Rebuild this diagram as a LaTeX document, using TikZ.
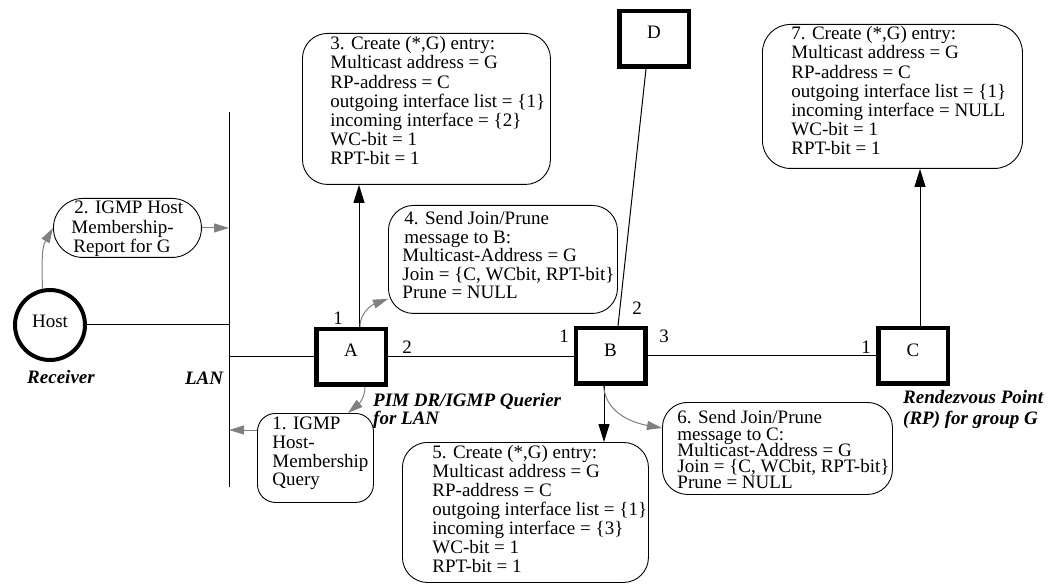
\documentclass[tikz,border=0pt]{standalone}
\usepackage{fontspec}
\setmainfont{Liberation Serif}
\usetikzlibrary{arrows.meta,calc}
% width, height, left indent, baselineskip, top skip, lines
\newcommand\bxt[6]{\makebox[#1pt][l]{\vbox to #2pt{\vspace*{#5pt}\hbox{\hspace*{#3pt}\vbox{\baselineskip=#4pt\relax\lineskiplimit=-100pt\relax\lineskip=0pt\relax\def\\{\egroup\hbox\bgroup}\hbox\bgroup\strut #6\egroup}}\vss}}}
\begin{document}
\begin{tikzpicture}[x=1pt,y=-1pt,font=\fontsize{19}{19}\selectfont,
  router/.style={draw,line width=4.5pt,minimum width=69.5pt,minimum height=55.5pt,inner sep=0pt,text height=5pt,text depth=5pt},
  hostc/.style={draw,circle,line width=4pt,minimum size=70pt,inner sep=0pt,text height=9pt,text depth=3pt},
  rbox/.style={draw,line width=0.9pt,inner sep=0pt,anchor=north west,rounded corners=#1},
  rbox/.default=25pt,
  lbl/.style={inner sep=0pt},
  bi/.style={inner sep=0pt,align=left,font=\fontsize{19}{18.3}\selectfont\bfseries\itshape},
  link/.style={line width=1pt},
  blackarrow/.style={line width=1pt,-{Triangle[length=18pt,width=11pt]}},
  grayarrow/.style={draw=gray,line width=1pt,-{Triangle[length=15pt,width=9pt]},color=gray}]
\useasboundingbox (0,0) rectangle (1050,585);

% LAN
\coordinate (lanT) at (229,112);
\coordinate (lanB) at (229,487);
\draw[link] (lanT) -- (lanB);

% nodes
\node[hostc] (host) at (50,325) {Host};
\node[router] (A) at (351,357) {A};
\node[router] (B) at (610.5,356) {B};
\node[router] (C) at (913,356) {C};
\node[router] (D) at (654,39) {D};

% boxes
\node[rbox=18pt] (b1) at (257,413) {\bxt{116}{89}{15}{18.7}{3}{1. IGMP\\Host-\\Membership\\Query}};
\node[rbox=29.5pt] (b2) at (53,198) {\bxt{148}{59}{18}{19.5}{2}{\hspace*{3pt}2. IGMP Host\\Membership-\\\hspace*{2pt}Report for G}};
\node[rbox] (b3) at (302,33) {\bxt{248}{151}{28}{19.2}{3}{3. Create (*,G) entry:\\Multicast address = G\\RP-address = C\\outgoing interface list = \{1\}\\incoming interface = \{2\}\\WC-bit = 1\\RPT-bit = 1}};
\node[rbox] (b4) at (388,205) {\bxt{229}{108}{14}{18.5}{6}{\hspace*{2pt}4. Send Join/Prune\\\hspace*{2pt}message to B:\\Multicast-Address = G\\Join = \{C, WCbit, RPT-bit\}\\Prune = NULL}};
\node[rbox] (b5) at (402,442) {\bxt{246}{140}{30}{19}{3}{5. Create (*,G) entry:\\Multicast address = G\\RP-address = C\\outgoing interface list = \{1\}\\incoming interface = \{3\}\\WC-bit = 1\\RPT-bit = 1}};
\node[rbox] (b6) at (662,402) {\bxt{230}{92}{15}{16.25}{8}{6. Send Join/Prune\\message to C:\\Multicast-Address = G\\Join = \{C, WCbit, RPT-bit\}\\Prune = NULL}};
\node[rbox=28pt] (b7) at (762,24) {\bxt{260}{144}{29}{19.2}{2}{7. Create (*,G) entry:\\Multicast address = G\\RP-address = C\\outgoing interface list = \{1\}\\incoming interface = NULL\\WC-bit = 1\\RPT-bit = 1}};

% links
\draw[link] (host.east) -- (host.east -| lanT);
\draw[link] (A.west) -- (A.west -| lanT);
\draw[link] (A.east) -- (A.east -| B.west);
\draw[link] (B.east) -- (C.west);
\draw[link] ([xshift=-8pt]D.south) -- ([xshift=7.5pt]B.north);

% black arrows
\draw[blackarrow] ([xshift=8pt]A.north) -- ([xshift=8pt]A.north |- b3.south);
\draw[blackarrow] ([xshift=7pt]C.north) -- ([xshift=7pt]C.north |- b7.south);
\draw[blackarrow] ([xshift=-6.5pt]B.south) -- ([xshift=-6.5pt]B.south |- b5.north);

% gray arrows
\draw[grayarrow] (host.102) to[out=90,in=240] (b2.west);
\draw[grayarrow] (b2.east) -- (b2.east -| lanT);
\coordinate (b1a) at ($(b1.north west)+(0,17)$);
\draw[grayarrow] (b1a) -- (b1a -| lanT);
\coordinate (b1t) at ($(b1.north west)+(91,0)$);
\draw[grayarrow] ([xshift=14pt]A.south) to[out=-90,in=40] (b1t);
\coordinate (b4a) at ($(b4.south west)+(0,-15)$);
\draw[grayarrow] ([xshift=9pt]A.north) to[out=90,in=200] (b4a);
\coordinate (b6a) at ($(b6.north west)+(0,26)$);
\draw[grayarrow] ([xshift=-7pt]B.south) to[out=-85,in=170] (b6a);

% labels
\node[bi] (recv) at (61,377) {Receiver};
\node[bi] (lan) at (204,378) {LAN};
\node[bi,anchor=base west] (pim) at (373,424.6) {PIM DR/IGMP Querier\\for LAN};
\node[bi,anchor=base west,font=\fontsize{19}{21}\selectfont\bfseries\itshape] (rp) at (903,424.3) {Rendezvous Point\\(RP) for group G};
\node[lbl] (a1) at (338,318) {1};
\node[lbl] (a2) at (407,347) {2};
\node[lbl] (bb1) at (564,336) {1};
\node[lbl] (bb2) at (637,308) {2};
\node[lbl] (bb3) at (664,336) {3};
\node[lbl] (c1) at (866,347) {1};
\end{tikzpicture}
\end{document}
